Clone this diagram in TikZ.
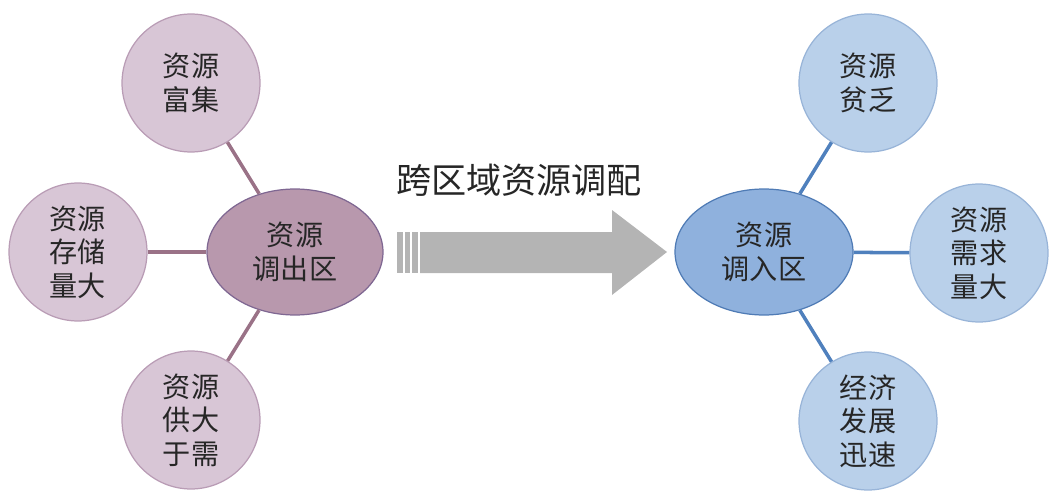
\documentclass[tikz,border=0pt]{standalone}
\usepackage{fontspec}
\usepackage{tikz}
\usetikzlibrary{shapes.geometric}
\newfontfamily\cjk{Noto Sans CJK SC}
\definecolor{MauveLight}{HTML}{D8C6D6}
\definecolor{MauveEdge}{HTML}{B99CB5}
\definecolor{Mauve}{HTML}{B898AD}
\definecolor{MauveDark}{HTML}{7F6792}
\definecolor{MauveLine}{HTML}{9A7287}
\definecolor{BlueLight}{HTML}{B9D0EA}
\definecolor{BlueEdge}{HTML}{98B4D8}
\definecolor{BlueMid}{HTML}{8FB1DD}
\definecolor{BlueDark}{HTML}{4F7BB5}
\definecolor{BlueLine}{HTML}{4F80BD}
\definecolor{ArrowGray}{HTML}{B4B4B4}

\begin{document}
\begin{tikzpicture}[x=0.02cm,y=-0.02cm,every node/.style={font=\cjk\fontsize{16}{19}\selectfont,align=center,text=black!85}]
  \useasboundingbox (0,0) rectangle (1055,500);
  % outflow region
  \node[ellipse,draw=MauveDark,fill=Mauve,line width=0.7pt,minimum width=3.52cm,minimum height=2.52cm,inner sep=0pt] (out) at (295,252) {资源\\调出区};
  \node[circle,draw=MauveEdge,fill=MauveLight,line width=0.7pt,minimum size=2.76cm,inner sep=0pt] (rich) at (191,83) {资源\\富集};
  \node[circle,draw=MauveEdge,fill=MauveLight,line width=0.7pt,minimum size=2.76cm,inner sep=0pt] (store) at (78,252) {资源\\存储\\量大};
  \node[circle,draw=MauveEdge,fill=MauveLight,line width=0.7pt,minimum size=2.76cm,inner sep=0pt] (supply) at (191,420) {资源\\供大\\于需};
  \draw[MauveLine,line width=2pt] (rich) -- (out);
  \draw[MauveLine,line width=2pt] (store) -- (out);
  \draw[MauveLine,line width=2pt] (supply) -- (out);
  % inflow region
  \node[ellipse,draw=BlueDark,fill=BlueMid,line width=0.7pt,minimum width=3.56cm,minimum height=2.52cm,inner sep=0pt] (in) at (764,252) {资源\\调入区};
  \node[circle,draw=BlueEdge,fill=BlueLight,line width=0.7pt,minimum size=2.76cm,inner sep=0pt] (poor) at (868,83) {资源\\贫乏};
  \node[circle,draw=BlueEdge,fill=BlueLight,line width=0.7pt,minimum size=2.76cm,inner sep=0pt] (demand) at (979,253) {资源\\需求\\量大};
  \node[circle,draw=BlueEdge,fill=BlueLight,line width=0.7pt,minimum size=2.76cm,inner sep=0pt] (growth) at (868,421) {经济\\发展\\迅速};
  \draw[BlueLine,line width=2pt] (poor) -- (in);
  \draw[BlueLine,line width=2pt] (demand) -- (in);
  \draw[BlueLine,line width=2pt] (growth) -- (in);
  % transfer arrow
  \node[font=\cjk\fontsize{20}{24}\selectfont] (label) at (519,180) {跨区域资源调配};
  \fill[ArrowGray] (397,232) rectangle (403,273);
  \fill[ArrowGray] (405,232) rectangle (410,273);
  \fill[ArrowGray] (412,232) rectangle (418,273);
  \fill[ArrowGray] (420,232) -- (612,232) -- (612,210) -- (667,252) -- (612,295) -- (612,273) -- (420,273) -- cycle;
\end{tikzpicture}
\end{document}
